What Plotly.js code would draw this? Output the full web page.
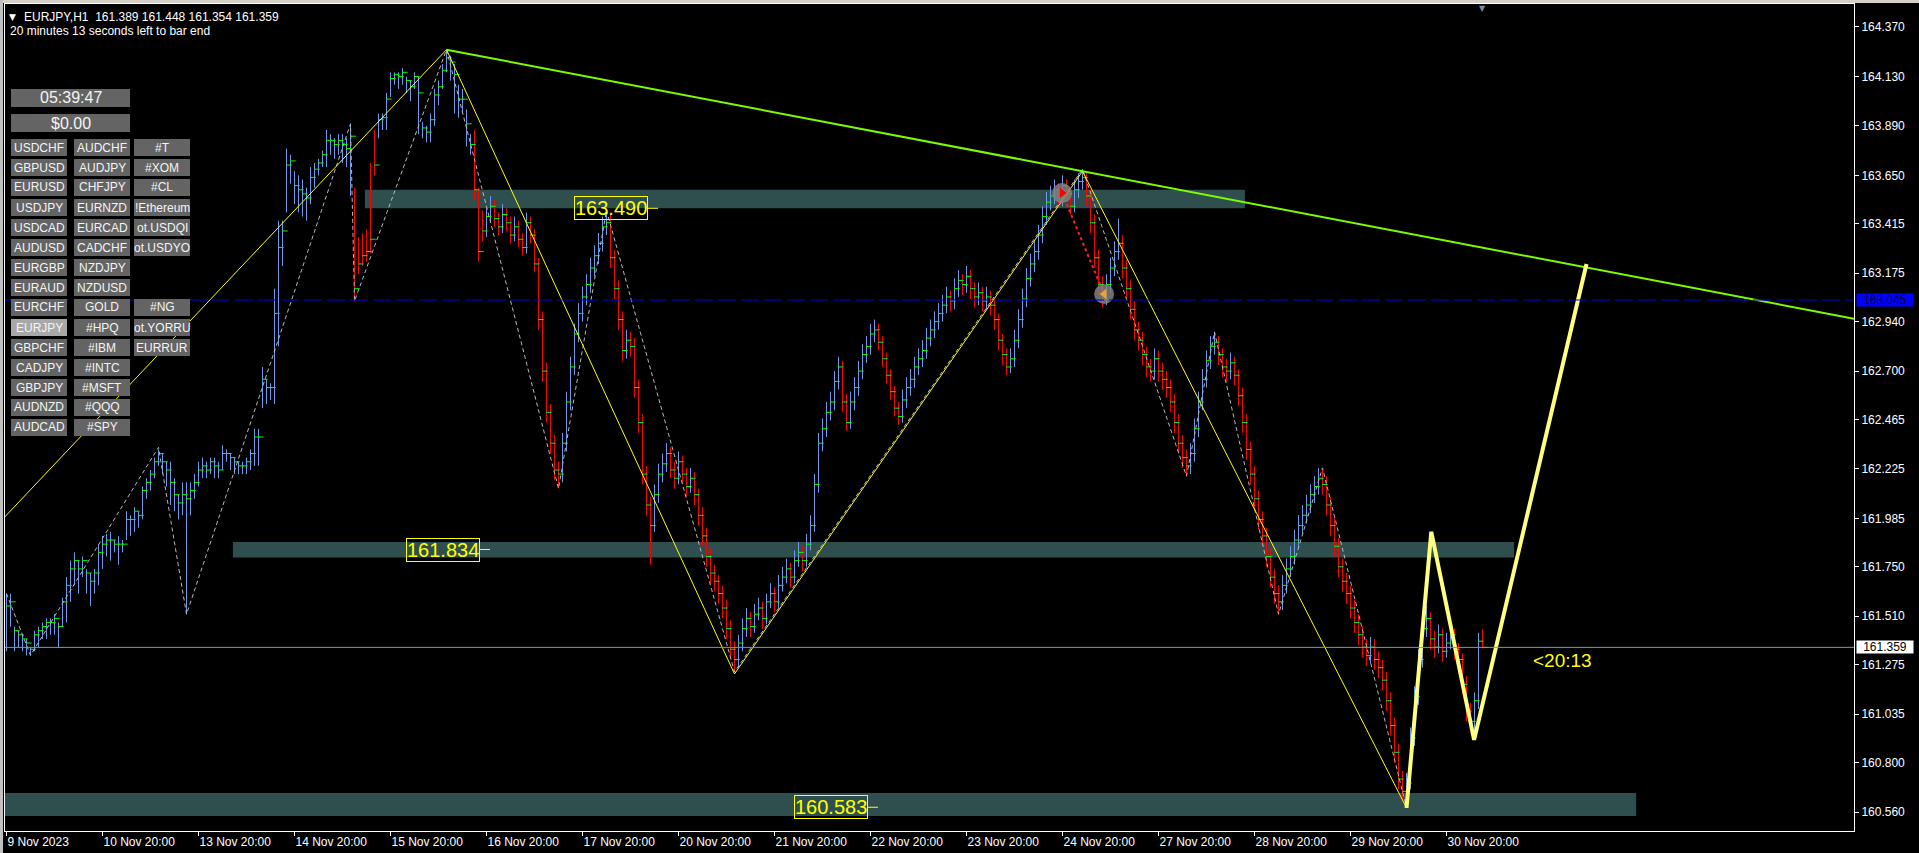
<!DOCTYPE html>
<html>
<head>
<meta charset="utf-8">
<script src="https://cdn.plot.ly/plotly-3.0.1.min.js"></script>
<style>
html,body{margin:0;padding:0;background:#000;overflow:hidden}
#chart{width:1919px;height:853px}
</style>
</head>
<body>
<div id="chart"></div>
<script>
// ---------------- DATA ----------------
const symbol = "EURJPY,H1";
const timeTickLabels = ["9 Nov 2023","10 Nov 20:00","13 Nov 20:00","14 Nov 20:00","15 Nov 20:00","16 Nov 20:00","17 Nov 20:00","20 Nov 20:00","21 Nov 20:00","22 Nov 20:00","23 Nov 20:00","24 Nov 20:00","27 Nov 20:00","28 Nov 20:00","29 Nov 20:00","30 Nov 20:00"];
const timeTickBars = [0,24,48,72,96,120,144,168,192,216,240,264,288,312,336,360];
const priceTicks = [164.370,164.130,163.890,163.650,163.415,163.175,162.940,162.700,162.465,162.225,161.985,161.750,161.510,161.275,161.035,160.800,160.560];

const open = [
161.38,161.48,161.36,161.38,161.35,161.36,161.33,161.34,161.42,161.44,
161.44,161.46,161.46,161.38,161.46,161.56,161.64,161.72,161.64,161.72,
161.64,161.62,161.66,161.70,161.80,161.84,161.80,161.84,161.78,161.82,
161.88,161.92,161.96,161.98,162.00,162.10,162.14,162.20,162.26,162.22,
162.16,162.08,162.04,162.00,162.02,162.00,162.04,162.10,162.16,162.20,
162.20,162.22,162.20,162.20,162.24,162.27,162.24,162.22,162.21,162.21,
162.22,162.24,162.28,162.30,162.54,162.56,162.57,162.60,162.90,163.24,
163.50,163.64,163.52,163.48,163.46,163.44,163.52,163.60,163.66,163.70,
163.72,163.76,163.74,163.76,163.74,163.72,163.60,163.55,163.32,163.34,
163.36,163.68,163.84,163.84,163.88,163.90,164.04,164.10,164.08,164.10,
164.06,164.02,164.08,163.87,163.84,163.82,163.82,163.90,164.00,164.08,
164.16,164.12,163.98,163.94,163.96,163.80,163.76,163.82,163.55,163.45,
163.38,163.45,163.50,163.44,163.40,163.46,163.42,163.36,163.40,163.34,
163.30,163.42,163.36,163.22,162.95,162.70,162.50,162.35,162.22,162.20,
162.35,162.55,162.72,162.88,162.98,163.06,163.12,163.20,163.26,163.32,
163.40,163.42,163.25,163.10,162.95,162.80,162.85,162.82,162.62,162.45,
162.20,162.05,161.95,162.10,162.20,162.25,162.30,162.22,162.18,162.26,
162.20,162.14,162.18,162.10,162.00,161.90,161.80,161.72,161.68,161.62,
161.55,161.45,161.35,161.30,161.38,161.45,161.50,161.46,161.52,161.55,
161.50,161.58,161.62,161.58,161.66,161.70,161.74,161.70,161.78,161.82,
161.78,161.86,161.95,162.15,162.35,162.42,162.50,162.55,162.65,162.72,
162.55,162.45,162.55,162.62,162.70,162.78,162.82,162.88,162.90,162.84,
162.76,162.68,162.60,162.52,162.48,162.56,162.62,162.66,162.72,162.76,
162.80,162.86,162.90,162.94,162.98,163.02,163.06,163.04,163.10,163.14,
163.12,163.16,163.10,163.06,163.08,163.04,163.06,163.02,162.95,162.85,
162.78,162.72,162.76,162.85,162.95,163.05,163.15,163.22,163.28,163.36,
163.45,163.52,163.55,163.58,163.54,163.60,163.56,163.50,163.58,163.62,
163.64,163.55,163.42,163.25,163.12,163.05,163.12,163.20,163.28,163.32,
163.20,163.10,163.00,162.90,162.85,162.78,162.72,162.70,162.76,162.70,
162.66,162.62,162.55,162.45,162.35,162.28,162.24,162.30,162.42,162.55,
162.66,162.75,162.82,162.84,162.78,162.72,162.70,162.74,162.68,162.58,
162.45,162.32,162.20,162.08,161.98,161.90,161.80,161.70,161.62,161.58,
161.66,161.74,161.80,161.88,161.95,162.00,162.05,162.10,162.14,162.18,
162.15,162.05,161.95,161.85,161.75,161.68,161.62,161.55,161.48,161.42,
161.36,161.32,161.36,161.30,161.26,161.20,161.10,160.98,160.85,160.72,
160.66,160.70,160.92,161.12,161.30,161.45,161.50,161.40,161.36,161.42,
161.34,161.38,161.42,161.35,161.30,161.18,161.05,161.00,161.10,161.389];

const high = [
161.62,161.62,161.46,161.44,161.42,161.40,161.36,161.44,161.46,161.48,
161.50,161.50,161.52,161.48,161.60,161.70,161.78,161.82,161.78,161.80,
161.74,161.72,161.74,161.86,161.90,161.91,161.92,161.88,161.90,161.88,
162.02,162.00,162.04,162.02,162.14,162.18,162.22,162.28,162.32,162.30,
162.26,162.26,162.18,162.10,162.16,162.16,162.16,162.20,162.26,162.28,
162.26,162.28,162.28,162.26,162.34,162.32,162.30,162.28,162.26,162.26,
162.28,162.32,162.42,162.42,162.72,162.66,162.64,163.10,163.43,163.43,
163.78,163.75,163.67,163.65,163.63,163.59,163.69,163.71,163.73,163.77,
163.87,163.85,163.83,163.85,163.85,163.83,163.90,163.59,163.35,163.37,
163.39,163.71,163.87,163.95,163.95,164.05,164.15,164.15,164.15,164.17,
164.13,164.11,164.15,164.13,163.91,163.89,163.95,164.07,164.11,164.19,
164.26,164.23,164.19,164.09,164.07,163.97,163.85,163.87,163.59,163.48,
163.49,163.55,163.53,163.47,163.51,163.49,163.45,163.45,163.43,163.37,
163.47,163.45,163.39,163.25,162.99,162.74,162.54,162.39,162.26,162.40,
162.60,162.77,162.93,163.03,163.11,163.17,163.25,163.31,163.37,163.45,
163.48,163.46,163.29,163.14,162.99,162.90,162.89,162.86,162.66,162.49,
162.24,162.09,162.15,162.25,162.30,162.35,162.33,162.26,162.31,162.29,
162.23,162.23,162.21,162.13,162.04,161.94,161.84,161.76,161.71,161.66,
161.59,161.49,161.39,161.42,161.50,161.55,161.53,161.57,161.60,161.58,
161.62,161.67,161.65,161.71,161.75,161.79,161.77,161.83,161.87,161.85,
161.91,162.00,162.20,162.40,162.47,162.55,162.60,162.70,162.77,162.75,
162.59,162.60,162.67,162.75,162.83,162.87,162.93,162.95,162.93,162.87,
162.79,162.71,162.63,162.55,162.61,162.67,162.71,162.77,162.81,162.85,
162.91,162.95,162.99,163.03,163.07,163.11,163.09,163.15,163.19,163.17,
163.21,163.19,163.13,163.13,163.11,163.11,163.09,163.05,162.98,162.88,
162.81,162.81,162.90,163.00,163.10,163.20,163.27,163.33,163.41,163.50,
163.57,163.60,163.63,163.61,163.65,163.63,163.59,163.63,163.66,163.68,
163.67,163.58,163.46,163.29,163.16,163.17,163.25,163.33,163.44,163.36,
163.24,163.14,163.04,162.94,162.89,162.82,162.76,162.81,162.80,162.74,
162.70,162.66,162.59,162.49,162.39,162.32,162.35,162.47,162.60,162.71,
162.80,162.87,162.89,162.87,162.81,162.76,162.79,162.77,162.71,162.62,
162.49,162.36,162.24,162.12,162.02,161.94,161.84,161.74,161.66,161.71,
161.79,161.85,161.93,162.00,162.05,162.10,162.15,162.19,162.23,162.22,
162.19,162.09,161.99,161.89,161.79,161.72,161.66,161.59,161.52,161.46,
161.40,161.41,161.40,161.34,161.30,161.24,161.14,161.02,160.89,160.76,
160.75,160.97,161.17,161.35,161.50,161.56,161.53,161.44,161.47,161.45,
161.43,161.47,161.45,161.38,161.33,161.22,161.09,161.14,161.43,161.448];

const low = [
161.34,161.46,161.34,161.36,161.34,161.32,161.32,161.34,161.36,161.40,
161.40,161.42,161.42,161.36,161.46,161.48,161.58,161.66,161.62,161.70,
161.62,161.56,161.62,161.66,161.74,161.80,161.78,161.82,161.76,161.82,
161.88,161.90,161.92,161.94,161.98,162.08,162.12,162.18,162.24,162.20,
162.14,162.05,162.02,161.98,162.00,161.52,162.00,162.08,162.14,162.18,
162.18,162.20,162.18,162.18,162.22,162.26,162.22,162.20,162.20,162.20,
162.20,162.22,162.24,162.24,162.52,162.54,162.56,162.54,162.82,163.21,
163.47,163.61,163.51,163.47,163.45,163.43,163.51,163.59,163.65,163.69,
163.69,163.75,163.73,163.75,163.71,163.69,163.55,163.04,163.17,163.21,
163.23,163.27,163.65,163.83,163.87,163.87,164.03,164.09,164.07,164.09,
164.05,164.01,164.07,163.85,163.83,163.81,163.81,163.89,163.99,164.07,
164.15,164.11,163.95,163.93,163.95,163.79,163.75,163.53,163.23,163.33,
163.35,163.42,163.40,163.36,163.37,163.38,163.32,163.33,163.30,163.26,
163.27,163.32,163.18,162.90,162.65,162.45,162.30,162.17,162.13,162.16,
162.31,162.51,162.68,162.84,162.94,163.02,163.08,163.16,163.22,163.28,
163.36,163.20,163.05,162.90,162.75,162.76,162.77,162.57,162.40,162.15,
162.00,161.76,161.92,162.06,162.16,162.21,162.18,162.13,162.15,162.15,
162.09,162.11,162.05,161.95,161.85,161.75,161.67,161.63,161.57,161.50,
161.40,161.30,161.24,161.26,161.34,161.41,161.41,161.43,161.49,161.45,
161.47,161.55,161.53,161.55,161.63,161.67,161.65,161.67,161.75,161.73,
161.75,161.83,161.92,162.11,162.31,162.38,162.46,162.51,162.61,162.50,
162.41,162.42,162.51,162.58,162.66,162.74,162.78,162.84,162.80,162.72,
162.64,162.56,162.48,162.44,162.45,162.52,162.58,162.62,162.68,162.72,
162.76,162.82,162.86,162.90,162.94,162.98,162.99,163.00,163.06,163.07,
163.08,163.05,163.01,163.02,162.99,163.00,162.97,162.90,162.80,162.73,
162.68,162.69,162.72,162.81,162.91,163.01,163.11,163.18,163.24,163.32,
163.41,163.48,163.51,163.50,163.50,163.52,163.46,163.47,163.54,163.58,
163.50,163.37,163.20,163.07,163.01,163.02,163.08,163.16,163.24,163.15,
163.05,162.95,162.85,162.80,162.73,162.67,162.65,162.66,162.65,162.61,
162.57,162.50,162.40,162.30,162.23,162.19,162.20,162.26,162.38,162.51,
162.62,162.71,162.78,162.73,162.67,162.65,162.66,162.63,162.53,162.40,
162.27,162.15,162.03,161.93,161.85,161.75,161.65,161.57,161.52,161.54,
161.62,161.70,161.76,161.84,161.91,161.96,162.01,162.06,162.10,162.10,
162.00,161.90,161.80,161.70,161.63,161.57,161.50,161.43,161.37,161.31,
161.27,161.28,161.25,161.21,161.15,161.05,160.93,160.80,160.67,160.61,
160.58,160.67,160.88,161.08,161.26,161.41,161.35,161.31,161.33,161.29,
161.31,161.35,161.30,161.25,161.13,161.00,160.96,160.95,161.06,161.354];

const close = [
161.56,161.58,161.44,161.42,161.40,161.38,161.35,161.42,161.44,161.46,
161.48,161.48,161.50,161.46,161.58,161.66,161.74,161.78,161.74,161.78,
161.72,161.68,161.72,161.82,161.86,161.88,161.88,161.86,161.86,161.86,
161.98,161.98,162.02,162.00,162.12,162.16,162.20,162.26,162.30,162.26,
162.22,162.16,162.10,162.06,162.10,162.08,162.12,162.16,162.22,162.24,
162.22,162.26,162.24,162.22,162.30,162.30,162.28,162.26,162.24,162.24,
162.26,162.30,162.38,162.38,162.66,162.62,162.62,162.98,163.30,163.38,
163.70,163.72,163.60,163.58,163.56,163.54,163.64,163.68,163.71,163.75,
163.82,163.82,163.80,163.82,163.80,163.78,163.84,163.10,163.22,163.26,
163.28,163.34,163.70,163.92,163.93,164.02,164.12,164.14,164.13,164.15,
164.11,164.08,164.13,164.05,163.88,163.86,163.92,164.04,164.08,164.16,
164.22,164.20,164.14,164.02,164.02,163.90,163.80,163.58,163.28,163.38,
163.45,163.50,163.44,163.40,163.46,163.42,163.36,163.40,163.34,163.30,
163.42,163.36,163.22,162.95,162.70,162.50,162.35,162.22,162.20,162.35,
162.55,162.72,162.88,162.98,163.06,163.12,163.20,163.26,163.32,163.40,
163.42,163.25,163.10,162.95,162.80,162.85,162.82,162.62,162.45,162.20,
162.05,161.95,162.10,162.20,162.25,162.30,162.22,162.18,162.26,162.20,
162.14,162.18,162.10,162.00,161.90,161.80,161.72,161.68,161.62,161.55,
161.45,161.35,161.30,161.38,161.45,161.50,161.46,161.52,161.55,161.50,
161.58,161.62,161.58,161.66,161.70,161.74,161.70,161.78,161.82,161.78,
161.86,161.95,162.15,162.35,162.42,162.50,162.55,162.65,162.72,162.55,
162.45,162.55,162.62,162.70,162.78,162.82,162.88,162.90,162.84,162.76,
162.68,162.60,162.52,162.48,162.56,162.62,162.66,162.72,162.76,162.80,
162.86,162.90,162.94,162.98,163.02,163.06,163.04,163.10,163.14,163.12,
163.16,163.10,163.06,163.08,163.04,163.06,163.02,162.95,162.85,162.78,
162.72,162.76,162.85,162.95,163.05,163.15,163.22,163.28,163.36,163.45,
163.52,163.55,163.58,163.54,163.60,163.56,163.50,163.58,163.62,163.64,
163.55,163.42,163.25,163.12,163.05,163.12,163.20,163.28,163.32,163.20,
163.10,163.00,162.90,162.85,162.78,162.72,162.70,162.76,162.70,162.66,
162.62,162.55,162.45,162.35,162.28,162.24,162.30,162.42,162.55,162.66,
162.75,162.82,162.84,162.78,162.72,162.70,162.74,162.68,162.58,162.45,
162.32,162.20,162.08,161.98,161.90,161.80,161.70,161.62,161.58,161.66,
161.74,161.80,161.88,161.95,162.00,162.05,162.10,162.14,162.18,162.15,
162.05,161.95,161.85,161.75,161.68,161.62,161.55,161.48,161.42,161.36,
161.32,161.36,161.30,161.26,161.20,161.10,160.98,160.85,160.72,160.66,
160.70,160.92,161.12,161.30,161.45,161.50,161.40,161.36,161.42,161.34,
161.38,161.42,161.35,161.30,161.18,161.05,161.00,161.10,161.389,161.359];

// ZigZag pivots (bar index, price)
const zigzagBar   = [0, 6, 38, 45, 86, 87, 110, 138, 150, 182, 269, 295, 302, 318, 329, 350];
const zigzagPrice = [161.62, 161.32, 162.33, 161.52, 163.90, 163.04, 164.26, 162.13, 163.48, 161.24, 163.68, 162.19, 162.89, 161.52, 162.23, 160.58];
// thin yellow trend zigzag
const trendBar   = [-2, 110, 182, 269, 350];
const trendPrice = [161.96, 164.26, 161.23, 163.67, 160.58];
// green resistance ray (two anchors)
const rayBar   = [110, 269];
const rayPrice = [164.26, 163.67];
// thick projection path
const projBar   = [350, 356.2, 366.9, 395];
const projPrice = [160.58, 161.92, 160.91, 163.22];
// supply/demand zones
const zoneLabel  = [163.490, 161.834, 160.583];
const zoneTop    = [163.580, 161.870, 160.652];
const zoneBottom = [163.490, 161.795, 160.540];
const zoneFrom   = [89.6, 56.6, -3];
const zoneTo     = [309.6, 376.9, 407.4];
// trade markers
const tradeBar   = [263.9, 274.4];
const tradePrice = [163.564, 163.074];
const levelLine = 163.045;
const bidPrice = 161.359;
const timerText = "<20:13";
const clockText = "05:39:47";
const balanceText = "$0.00";
const barEndText = "20 minutes 13 seconds left to bar end";
const col1 = ["USDCHF","GBPUSD","EURUSD","USDJPY","USDCAD","AUDUSD","EURGBP","EURAUD","EURCHF","EURJPY","GBPCHF","CADJPY","GBPJPY","AUDNZD","AUDCAD"];
const col2 = ["AUDCHF","AUDJPY","CHFJPY","EURNZD","EURCAD","CADCHF","NZDJPY","NZDUSD","GOLD","#HPQ","#IBM","#INTC","#MSFT","#QQQ","#SPY"];
const col3 = ["#T","#XOM","#CL","!Ethereum","ot.USDQI","ot.USDYO","","","#NG","ot.YORRU","EURRUR","","","",""];
const activeSymbol = "EURJPY";

// ---------------- GEOMETRY ----------------
const W = 1919, H = 853;
const L = 5, R = 1854, T = 4, B = 831;
const BARPX = 4;
const X0 = -0.375;
const xRange = [X0, X0 + (R - L) / BARPX];
const yRange = [160.4678, 164.4816];
const px = x => (x - L) / (R - L);
const py = y => (B - y) / (B - T);
const ix = x => X0 + (x - L) / BARPX;

const FONT = "Liberation Sans, Arial, sans-serif";
const idx = close.map((_, i) => i);

// ---------------- TRACES ----------------
const traces = [];
traces.push({
  type: 'ohlc', x: idx, open: open, high: high, low: low, close: close,
  increasing: {line: {color: '#6B9BEA', width: 1}},
  decreasing: {line: {color: '#FF0000', width: 1}},
  tickwidth: 0, hoverinfo: 'skip', showlegend: false
});
traces.push({
  type: 'scatter', mode: 'markers', x: idx.map(i => i + 0.6), y: close,
  marker: {symbol: 'line-ew', size: 4, color: '#00FF00', line: {color: '#00FF00', width: 1}},
  hoverinfo: 'skip', showlegend: false
});
traces.push({
  type: 'scatter', mode: 'lines', x: zigzagBar, y: zigzagPrice,
  line: {color: '#B8B8B8', width: 1, dash: '4px,3px'}, hoverinfo: 'skip', showlegend: false
});
traces.push({
  type: 'scatter', mode: 'lines', x: trendBar, y: trendPrice,
  line: {color: '#FFFF00', width: 1}, hoverinfo: 'skip', showlegend: false
});
const slope = (rayPrice[1] - rayPrice[0]) / (rayBar[1] - rayBar[0]);
traces.push({
  type: 'scatter', mode: 'lines',
  x: [rayBar[0], rayBar[1], xRange[1]],
  y: [rayPrice[0], rayPrice[1], rayPrice[0] + slope * (xRange[1] - rayBar[0])],
  line: {color: '#7CFC00', width: 2}, hoverinfo: 'skip', showlegend: false
});
traces.push({
  type: 'scatter', mode: 'lines', x: projBar, y: projPrice,
  line: {color: '#FFFF80', width: 4}, hoverinfo: 'skip', showlegend: false
});
traces.push({
  type: 'scatter', mode: 'lines', x: tradeBar, y: tradePrice,
  line: {color: '#FF2020', width: 2, dash: 'dot'}, hoverinfo: 'skip', showlegend: false
});
traces.push({
  type: 'scatter', mode: 'markers', x: tradeBar, y: tradePrice,
  marker: {size: 20, color: '#808080', opacity: 0.85}, hoverinfo: 'skip', showlegend: false
});
traces.push({
  type: 'scatter', mode: 'markers', x: tradeBar, y: tradePrice,
  marker: {size: 9, symbol: ['triangle-right', 'triangle-left'], color: ['#FF0000', '#F0A030']},
  hoverinfo: 'skip', showlegend: false
});

// ---------------- SHAPES ----------------
const shapes = [];
zoneTop.forEach((t, k) => {
  shapes.push({type: 'rect', xref: 'x', yref: 'y', x0: zoneFrom[k], x1: zoneTo[k], y0: zoneBottom[k], y1: t,
    fillcolor: '#2F4F4F', line: {width: 0}, layer: 'below'});
});
shapes.push({type: 'line', xref: 'paper', yref: 'y', x0: 0, x1: 1, y0: levelLine, y1: levelLine,
  line: {color: '#0000E6', width: 1, dash: '18px,5px'}, layer: 'above'});
shapes.push({type: 'line', xref: 'paper', yref: 'y', x0: 0, x1: 1, y0: bidPrice, y1: bidPrice,
  line: {color: '#8A94A6', width: 1}, layer: 'above'});

// zone label boxes positions (pixel centers)
const labelCenterPx = [610.5, 442.5, 830.5];
const annotations = [];
zoneLabel.forEach((v, k) => {
  annotations.push({xref: 'x', yref: 'y', x: ix(labelCenterPx[k]), y: v, text: v.toFixed(3),
    showarrow: false, xanchor: 'center', yanchor: 'middle',
    font: {family: FONT, size: 20, color: '#FFFF00'},
    bordercolor: '#FFFF00', borderwidth: 1, borderpad: 0});
  shapes.push({type: 'line', xref: 'x', yref: 'y', x0: ix(labelCenterPx[k] + 37.5), x1: ix(labelCenterPx[k] + 47.5),
    y0: v, y1: v, line: {color: '#FFFF00', width: 1}, layer: 'above'});
});

// Button panel
const btnColX = [11, 74, 134];
const btnW = 56, btnH = 17, rowY0 = 139, rowStep = 20;
function button(x0, y0, w, h, text, bg, size) {
  shapes.push({type: 'rect', xref: 'paper', yref: 'paper', x0: px(x0), x1: px(x0 + w), y0: py(y0 + h), y1: py(y0),
    fillcolor: bg, line: {width: 0}, layer: 'above'});
  annotations.push({xref: 'paper', yref: 'paper', x: px(x0 + w / 2), y: py(y0 + h / 2), text: text,
    showarrow: false, xanchor: 'center', yanchor: 'middle',
    font: {family: FONT, size: size, color: '#F4F4F4'}});
}
button(11, 89, 119, 18, clockText, '#646464', 16);
button(11, 114, 119, 18, balanceText, '#646464', 16);
[col1, col2, col3].forEach((col, c) => {
  col.forEach((name, r) => {
    if (!name) return;
    button(btnColX[c], rowY0 + r * rowStep, btnW, btnH, name, name === activeSymbol ? '#A8A8A8' : '#646464', 12);
  });
});

// window chrome
shapes.push({type: 'rect', xref: 'paper', yref: 'paper', x0: px(0), x1: px(W), y0: py(3), y1: py(0),
  fillcolor: '#D4D0C8', line: {width: 0}, layer: 'above'});
shapes.push({type: 'rect', xref: 'paper', yref: 'paper', x0: px(0), x1: px(3), y0: py(H), y1: py(0),
  fillcolor: '#C0C0C0', line: {width: 0}, layer: 'above'});

// header texts
const last = close.length - 1;
annotations.push({xref: 'paper', yref: 'paper', x: px(7), y: py(17), text: '▼', showarrow: false,
  xanchor: 'left', yanchor: 'middle', font: {family: 'DejaVu Sans', size: 9, color: '#FFFFFF'}});
annotations.push({xref: 'paper', yref: 'paper', x: px(22), y: py(17),
  text: symbol + '  ' + [open[last], high[last], low[last], close[last]].map(v => v.toFixed(3)).join(' '),
  showarrow: false, xanchor: 'left', yanchor: 'middle', font: {family: FONT, size: 12, color: '#FFFFFF'}});
annotations.push({xref: 'paper', yref: 'paper', x: px(8), y: py(31), text: barEndText,
  showarrow: false, xanchor: 'left', yanchor: 'middle', font: {family: FONT, size: 12, color: '#FFFFFF'}});

// timer label
annotations.push({xref: 'x', yref: 'paper', x: ix(1531), y: py(660), text: timerText, showarrow: false,
  xanchor: 'left', yanchor: 'middle', font: {family: FONT, size: 19, color: '#FFFF00'}});

// right price labels
annotations.push({xref: 'paper', yref: 'y', x: px(1856), y: levelLine, text: levelLine.toFixed(3),
  showarrow: false, xanchor: 'left', yanchor: 'middle', width: 56, height: 12, align: 'center',
  bgcolor: '#0000FF', borderpad: 0, font: {family: FONT, size: 12, color: '#000030'}});
annotations.push({xref: 'paper', yref: 'y', x: px(1856), y: bidPrice, text: bidPrice.toFixed(3),
  showarrow: false, xanchor: 'left', yanchor: 'middle', width: 56, height: 12, align: 'center',
  bgcolor: '#FFFFFF', borderpad: 0, font: {family: FONT, size: 12, color: '#000000'}});

// chart shift marker
annotations.push({xref: 'x', yref: 'paper', x: last, y: py(8), text: '▼', showarrow: false,
  xanchor: 'center', yanchor: 'middle', font: {family: 'DejaVu Sans', size: 8, color: '#7F8EA3'}});

// ---------------- LAYOUT ----------------
const layout = {
  width: W, height: H,
  margin: {l: L, r: W - R, t: T, b: H - B, pad: 0},
  paper_bgcolor: '#000000', plot_bgcolor: '#000000',
  showlegend: false, hovermode: false, dragmode: false,
  font: {family: FONT, size: 12, color: '#FFFFFF'},
  xaxis: {
    type: 'linear', range: xRange, fixedrange: true,
    rangeslider: {visible: false},
    tickmode: 'array', tickvals: timeTickBars, ticktext: timeTickLabels,
    ticks: 'outside', ticklen: 4, tickcolor: '#FFFFFF', tickwidth: 1,
    ticklabelposition: 'outside right',
    tickfont: {family: FONT, size: 12, color: '#FFFFFF'},
    showgrid: false, zeroline: false,
    showline: true, linecolor: '#FFFFFF', linewidth: 1, mirror: true
  },
  yaxis: {
    range: yRange, side: 'right', fixedrange: true,
    tickmode: 'array', tickvals: priceTicks, ticktext: priceTicks.map(v => v.toFixed(3)),
    ticks: 'outside', ticklen: 4, tickcolor: '#FFFFFF', tickwidth: 1,
    tickfont: {family: FONT, size: 12, color: '#FFFFFF'},
    showgrid: false, zeroline: false,
    showline: true, linecolor: '#FFFFFF', linewidth: 1, mirror: true
  },
  shapes: shapes,
  annotations: annotations
};

Plotly.newPlot('chart', traces, layout, {displayModeBar: false, staticPlot: true});
</script>
</body>
</html>
